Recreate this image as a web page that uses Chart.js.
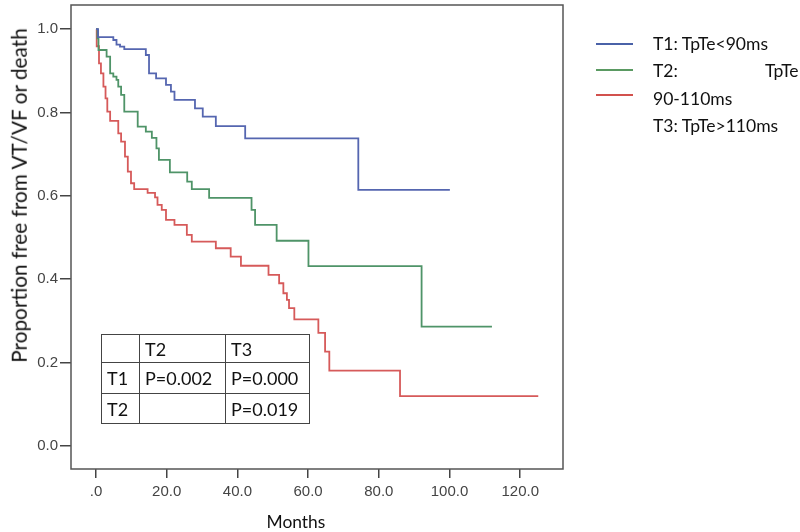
<!DOCTYPE html>
<html>
<head>
<meta charset="utf-8">
<script src="https://cdn.jsdelivr.net/npm/chart.js@4/dist/chart.umd.min.js"></script>
<style>
  body { margin: 0; background: #fff; }
  #wrap { position: relative; width: 800px; height: 532px; }
  canvas { position: absolute; left: 0; top: 0; }
  .txt { position: absolute; font-family: Lato, "Open Sans", sans-serif; color: #111; white-space: nowrap; }
  #ytitle { font-size: 18px; transform: rotate(-90deg); }
  #xtitle { font-size: 18px; }
  .leg { font-size: 18px; transform: translateY(-50%); }
  .legline { position: absolute; height: 2px; width: 37px; left: 596px; }
  #ptable { position: absolute; left: 101px; top: 334px; border-collapse: collapse; table-layout: fixed; font-family: Lato, "Open Sans", sans-serif; font-size: 18px; color: #111; }
  #ptable td { border: 1px solid #444; padding: 0 0 0 5px; text-align: left; vertical-align: middle; white-space: nowrap; overflow: hidden; }
</style>
</head>
<body>
<div id="wrap">
  <canvas id="km" width="800" height="532"></canvas>
  <div class="txt" id="ytitle">Proportion free from VT/VF or death</div>
  <div class="txt" id="xtitle">Months</div>
  <div class="legline" style="top:43px;background:#4a62a8"></div>
  <div class="legline" style="top:69px;background:#5a9a62"></div>
  <div class="legline" style="top:94px;background:#d2514d"></div>
  <div class="txt leg" id="leg1" style="left:653px;top:43px">T1: TpTe&lt;90ms</div>
  <div class="txt leg" style="left:653px;top:70px">T2:</div>
  <div class="txt leg" style="left:765px;top:70px">TpTe</div>
  <div class="txt leg" style="left:653px;top:98px">90-110ms</div>
  <div class="txt leg" style="left:653px;top:125px">T3: TpTe&gt;110ms</div>
  <table id="ptable">
    <tr><td style="width:32px;height:27px"></td><td style="width:80px">T2</td><td style="width:78px">T3</td></tr>
    <tr><td style="height:30px">T1</td><td><span id="pspan">P=0.002</span></td><td>P=0.000</td></tr>
    <tr><td style="height:29px">T2</td><td></td><td>P=0.019</td></tr>
  </table>
</div>
<script>
// Kaplan-Meier step data (months, survival after step)
var t1Months = [0, 0.6, 4.9, 5.8, 6.8, 8.0, 14.1, 15.0, 17.0, 19.8, 21.2, 22.2, 28.0, 30.2, 33.9, 42.2, 74.2, 100.1];
var t1Surv   = [1.0, 0.981, 0.974, 0.963, 0.958, 0.952, 0.938, 0.894, 0.882, 0.866, 0.850, 0.830, 0.810, 0.790, 0.767, 0.738, 0.614, 0.614];

var t2Months = [0, 0.4, 0.7, 3.0, 4.0, 4.9, 5.8, 6.3, 7.1, 8.0, 11.8, 14.1, 15.8, 17.1, 17.8, 20.9, 25.8, 27.1, 32.0, 44.0, 45.0, 51.1, 60.1, 92.1, 112.0];
var t2Surv   = [1.0, 0.978, 0.950, 0.934, 0.894, 0.886, 0.878, 0.862, 0.842, 0.802, 0.766, 0.754, 0.739, 0.714, 0.686, 0.656, 0.634, 0.616, 0.595, 0.566, 0.530, 0.492, 0.431, 0.286, 0.286];

var t3Months = [0, 0.2, 0.85, 1.4, 2.1, 2.7, 3.2, 4.0, 6.3, 7.1, 8.2, 9.0, 9.9, 10.8, 14.6, 16.7, 17.4, 18.6, 19.8, 22.2, 25.7, 27.1, 33.9, 38.1, 41.0, 48.8, 51.8, 53.0, 54.0, 54.6, 56.1, 62.9, 64.8, 66.0, 86.0, 125.1];
var t3Surv   = [1.0, 0.959, 0.918, 0.894, 0.862, 0.834, 0.802, 0.780, 0.750, 0.730, 0.694, 0.658, 0.630, 0.616, 0.607, 0.596, 0.578, 0.566, 0.542, 0.530, 0.506, 0.490, 0.474, 0.454, 0.432, 0.410, 0.390, 0.366, 0.350, 0.330, 0.303, 0.271, 0.226, 0.180, 0.119, 0.119];

var xTicks = [0, 20, 40, 60, 80, 100, 120];
var yTicks = [0, 0.2, 0.4, 0.6, 0.8, 1.0];

function pts(xs, ys) {
    return xs.map(function(x, i) { return { x: x, y: ys[i] }; });
}

// font size that makes el's text w px wide
function fitSize(el, w) {
    var fs = parseFloat(getComputedStyle(el).fontSize);
    return fs * w / el.offsetWidth;
}

// put a div's centre at (cx, cy)
function centre(id, cx, cy) {
    var el = document.getElementById(id);
    el.style.left = (cx - el.offsetWidth / 2) + 'px';
    el.style.top = (cy - el.offsetHeight / 2) + 'px';
}

var yt = document.getElementById('ytitle');
yt.style.fontSize = fitSize(yt, 335) + 'px';
var xt = document.getElementById('xtitle');
xt.style.fontSize = fitSize(xt, 59) + 'px';
centre('ytitle', 18, 195);
centre('xtitle', 296, 521);

var legSize = fitSize(document.getElementById('leg1'), 115);
document.querySelectorAll('.leg').forEach(function(el) { el.style.fontSize = legSize + 'px'; });
document.getElementById('ptable').style.fontSize = fitSize(document.getElementById('pspan'), 67) + 'px';

// grey frame round the plot area
var framePlugin = {
    id: 'frame',
    afterDraw: function(chart) {
        var a = chart.chartArea, c = chart.ctx;
        c.save();
        c.strokeStyle = '#555';
        c.lineWidth = 1.5;
        c.strokeRect(a.left, a.top, a.right - a.left, a.bottom - a.top);
        c.restore();
    }
};

var g = document.getElementById('km').getContext('2d');

var km = new Chart(g, {
    type: 'line',
    data: {
        datasets: [{
            label: 'T1: TpTe<90ms',
            data: pts(t1Months, t1Surv),
            borderColor: '#5566b0',
            borderWidth: 1.8,
            stepped: 'before',
            pointRadius: 0
        }, {
            label: 'T2: TpTe 90-110ms',
            data: pts(t2Months, t2Surv),
            borderColor: '#4f9468',
            borderWidth: 1.8,
            stepped: 'before',
            pointRadius: 0
        }, {
            label: 'T3: TpTe>110ms',
            data: pts(t3Months, t3Surv),
            borderColor: '#d65a5a',
            borderWidth: 1.8,
            stepped: 'before',
            pointRadius: 0
        }]
    },
    options: {
        responsive: false,
        animation: false,
        layout: { padding: { top: 5, right: 237, left: 0, bottom: 0 } },
        plugins: { legend: { display: false }, tooltip: { enabled: false } },
        scales: {
            x: {
                type: 'linear',
                min: -7.07,
                max: 132.1,
                afterFit: function(s) { s.height = 63; s.paddingLeft = 0; s.paddingRight = 0; },
                afterBuildTicks: function(s) { s.ticks = xTicks.map(function(v) { return { value: v }; }); },
                grid: { drawOnChartArea: false, drawTicks: true, tickLength: 9, color: '#444', lineWidth: 1.5 },
                border: { display: false },
                ticks: {
                    padding: 5,
                    color: '#444',
                    font: { family: 'Liberation Sans', size: 15 },
                    callback: function(v) { return v === 0 ? '.0' : v.toFixed(1); }
                }
            },
            y: {
                type: 'linear',
                min: -0.056,
                max: 1.058,
                afterFit: function(s) { s.width = 71; s.paddingTop = 0; s.paddingBottom = 0; },
                afterBuildTicks: function(s) { s.ticks = yTicks.map(function(v) { return { value: v }; }); },
                grid: { drawOnChartArea: false, drawTicks: true, tickLength: 11, color: '#444', lineWidth: 1.5 },
                border: { display: false },
                ticks: {
                    padding: 2,
                    color: '#444',
                    font: { family: 'Liberation Sans', size: 15 },
                    callback: function(v) { return v.toFixed(1); }
                }
            }
        }
    },
    plugins: [framePlugin]
});
</script>
</body>
</html>
